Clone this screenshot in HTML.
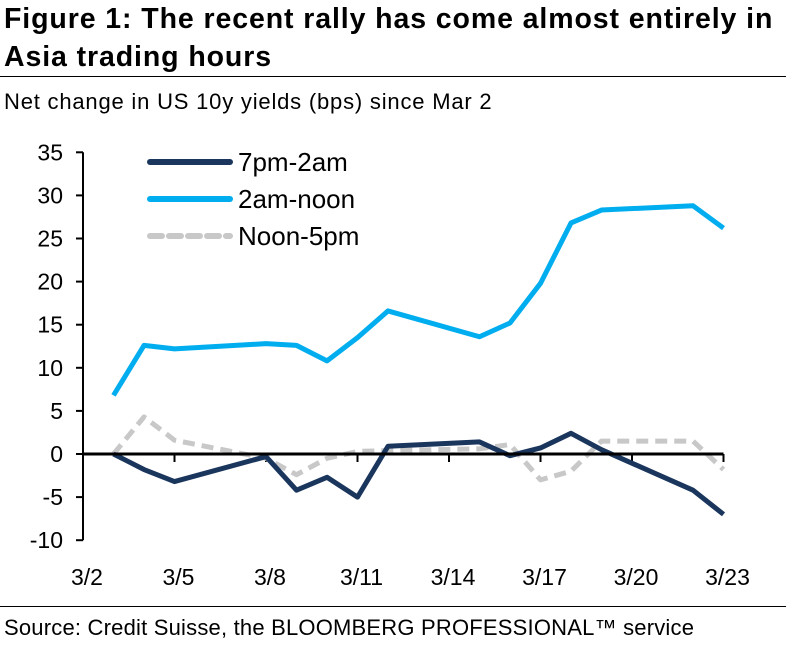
<!DOCTYPE html>
<html><head><meta charset="utf-8"><style>
body{margin:0;background:#fff;font-family:"Liberation Sans",Arial,sans-serif;}
#wrap{position:relative;width:786px;height:652px;overflow:hidden;}
.title{position:absolute;left:4px;top:0px;font-size:28.5px;font-weight:bold;line-height:38px;color:#000;letter-spacing:0.9px;white-space:nowrap;}
.sub{position:absolute;left:4px;top:89px;font-size:22px;color:#000;white-space:nowrap;letter-spacing:0.8px;}
.src{position:absolute;left:4px;top:615px;font-size:22px;color:#000;white-space:nowrap;letter-spacing:0.2px;}
.rule{position:absolute;left:0;width:786px;height:1px;background:#000;}
</style></head><body>
<div id="wrap">
<div class="title">Figure 1: The recent rally has come almost entirely in<br>Asia trading hours</div>
<div class="rule" style="top:76px"></div>
<div class="sub">Net change in US 10y yields (bps) since Mar 2</div>
<svg id="chart" width="786" height="652" style="position:absolute;left:0;top:0"></svg>
<div class="rule" style="top:606px"></div>
<div class="src">Source: Credit Suisse, the BLOOMBERG PROFESSIONAL™ service</div>
</div>
<script>
const days=[3,4,5,8,9,10,11,12,15,16,17,18,19,22,23];
const s1=[0,-1.8,-3.2,-0.3,-4.2,-2.7,-5,0.9,1.4,-0.2,0.7,2.4,0.5,-4.2,-7];
const s2=[6.8,12.6,12.2,12.8,12.6,10.8,13.5,16.6,13.6,15.2,19.8,26.8,28.3,28.8,26.2];
const s3=[0,4.3,1.6,-0.5,-2.4,-0.5,0.3,0.4,0.6,1.1,-3,-2,1.5,1.5,-1.8];
const yTicks=[35,30,25,20,15,10,5,0,-5,-10];
const xTickDays=[2,5,8,11,14,17,20,23];
const xTickLabels=["3/2","3/5","3/8","3/11","3/14","3/17","3/20","3/23"];
const NS="http://www.w3.org/2000/svg";
const svg=document.getElementById('chart');
const x=d=>83+(d-2)*30.5;
const y=v=>454-v*8.62;
function mk(t,a){const e=document.createElementNS(NS,t);for(const k in a)e.setAttribute(k,a[k]);svg.appendChild(e);return e;}
let e=mk('line',{x1:83,y1:y(35),x2:83,y2:y(-10),stroke:'#000','stroke-width':2});


yTicks.forEach(v=>{
 let t=mk('line',{x1:76,y1:y(v),x2:83,y2:y(v),stroke:'#000','stroke-width':2});
 
 
 let l=mk('text',{x:63,y:y(v)+8,'text-anchor':'end','font-size':23,fill:'#000'});
 l.textContent=v;
 
 
});
xTickDays.forEach((d,i)=>{
 let t=mk('line',{x1:x(d),y1:y(0),x2:x(d),y2:y(0)+8,stroke:'#000','stroke-width':2});
 
 
 let l=mk('text',{x:x(d)+4,y:585,'text-anchor':'middle','font-size':23,fill:'#000'});
 l.textContent=xTickLabels[i];
 
 
});
const series=[
 {v:s3,c:'#c8c8c8',dash:'12 7',name:'noon-5pm-line'},
 {v:s1,c:'#1b365d',dash:'',name:'7pm-2am-line'},
 {v:s2,c:'#00adef',dash:'',name:'2am-noon-line'}];
series.forEach(s=>{
 let p=mk('polyline',{points:days.map((d,i)=>x(d)+','+y(s.v[i])).join(' '),fill:'none',stroke:s.c,'stroke-width':5,'stroke-dasharray':s.dash,'stroke-linejoin':'round'});
 
 
});
let ax=mk('line',{x1:83,y1:y(0),x2:x(23),y2:y(0),stroke:'#000','stroke-width':3});


const leg=[["7pm-2am",'#1b365d',''],["2am-noon",'#00adef',''],["Noon-5pm",'#c8c8c8','12 7']];
leg.forEach((L,i)=>{
 const yy=162+i*37;
 let ln=mk('line',{x1:150,y1:yy,x2:230,y2:yy,stroke:L[1],'stroke-width':6,'stroke-dasharray':L[2],'stroke-linecap':'round'});
 
 
 let t=mk('text',{x:238,y:yy+9,'font-size':26,fill:'#000'});
 t.textContent=L[0];
 
 
});
</script>
</body></html>
